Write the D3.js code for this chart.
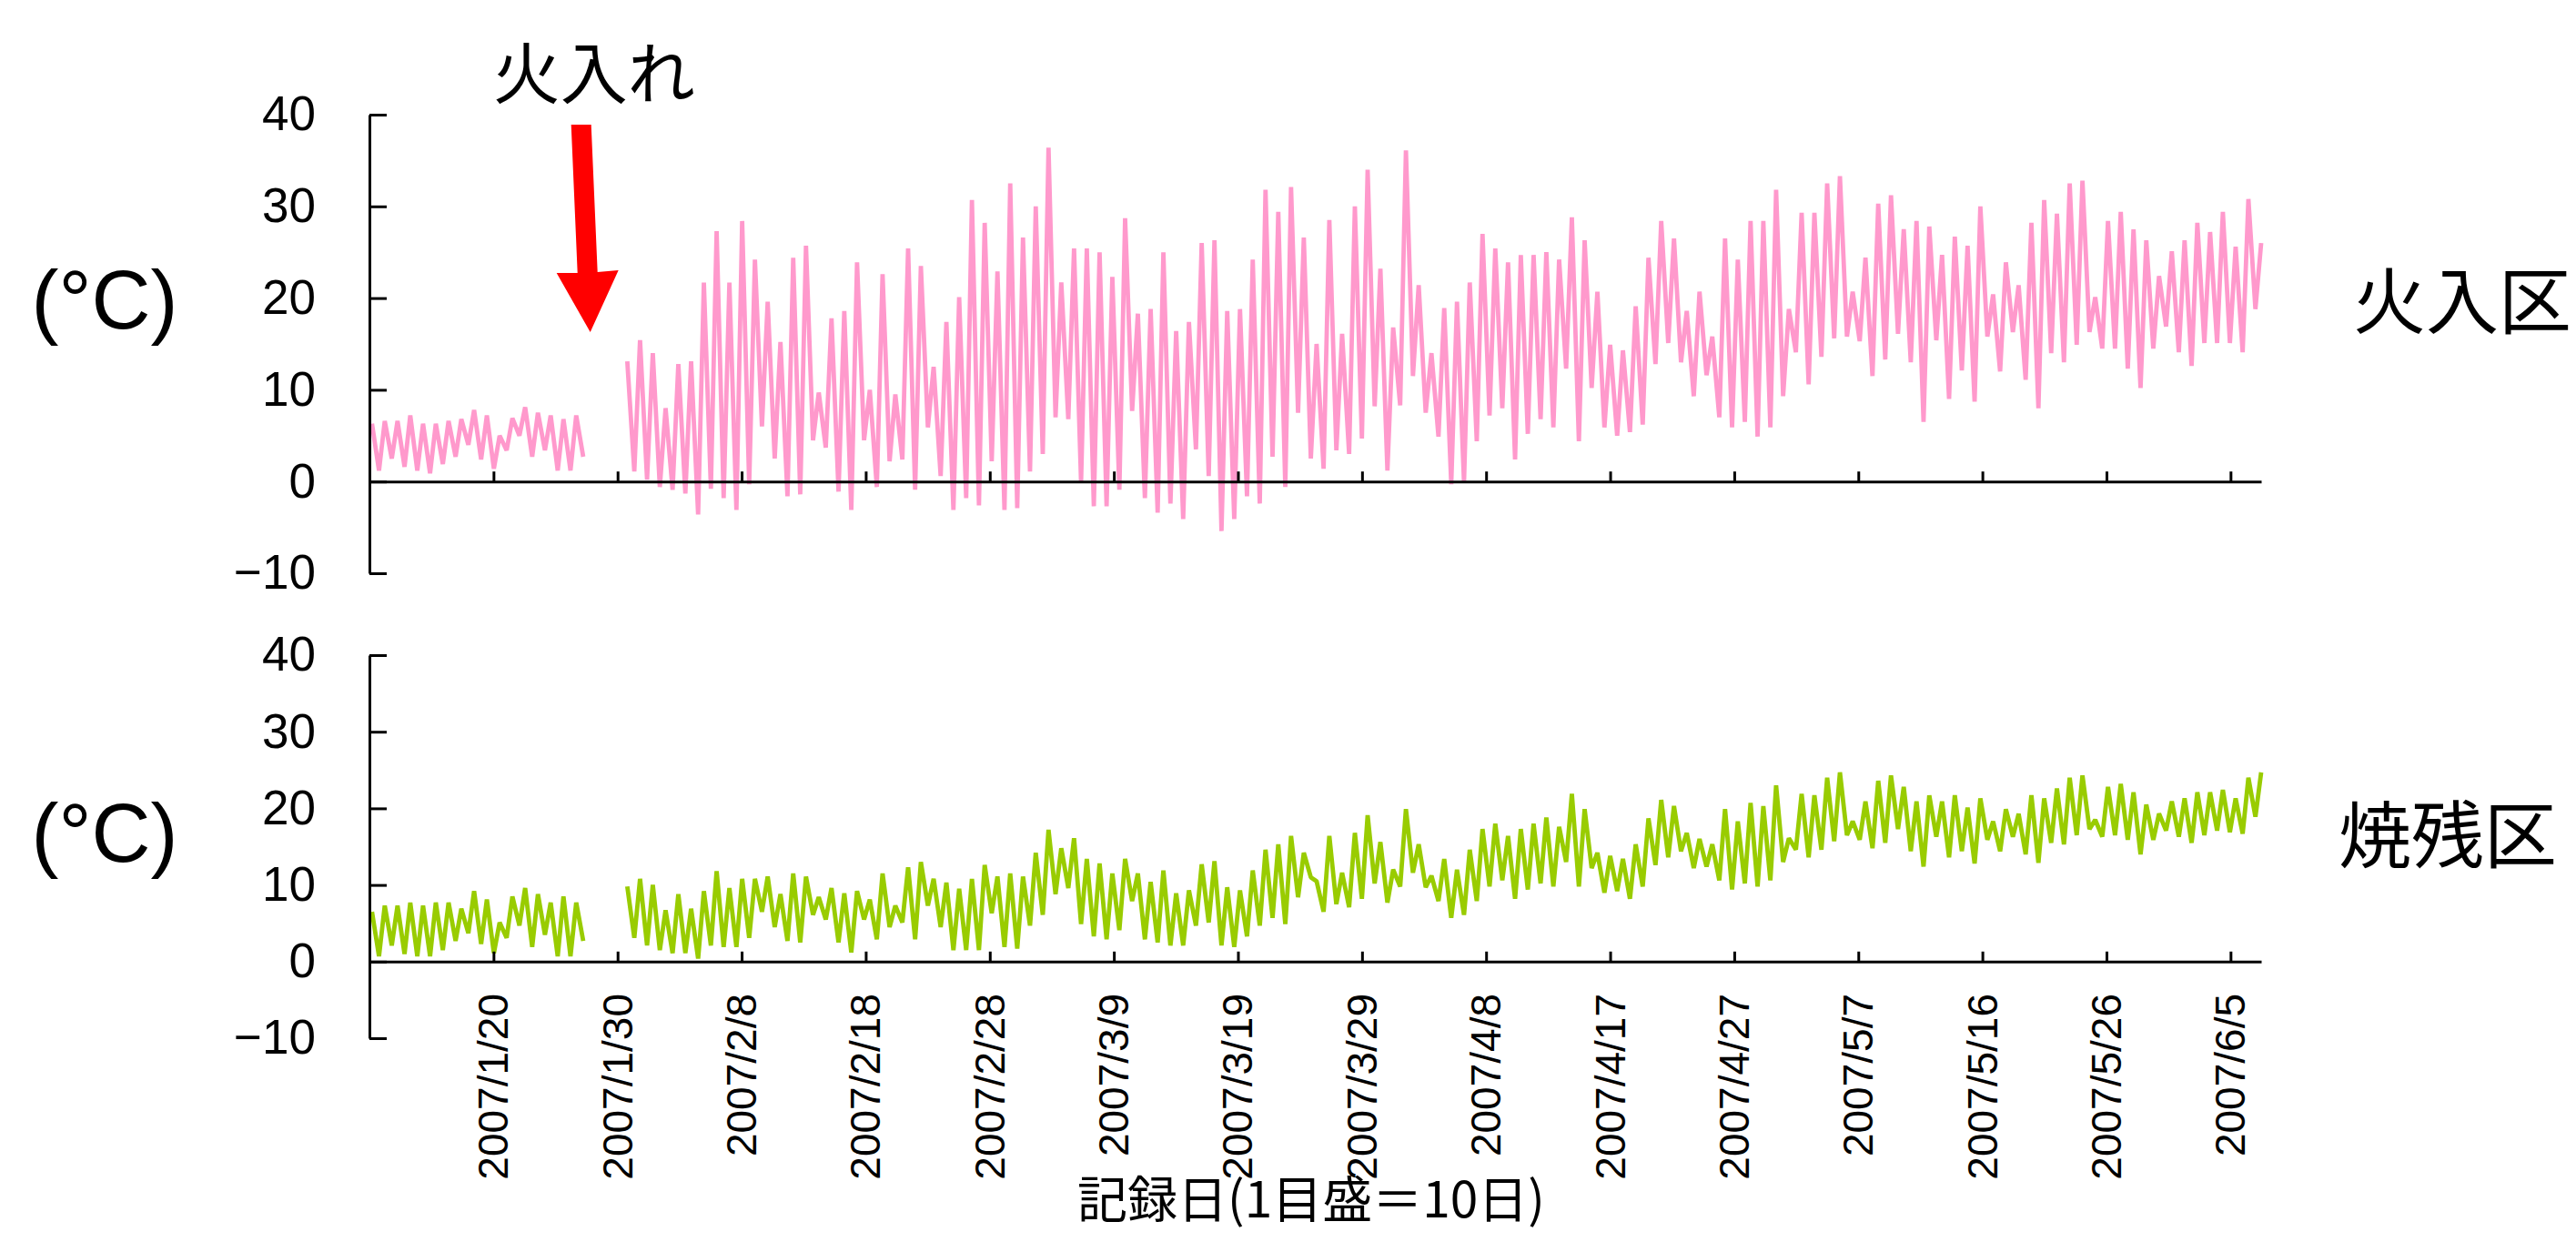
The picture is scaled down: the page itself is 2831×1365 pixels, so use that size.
<!DOCTYPE html>
<html>
<head>
<meta charset="utf-8">
<script src="https://cdn.jsdelivr.net/npm/d3@7"></script>
<style>
  body { margin: 0; background: #fff; }
  text { font-family: "Liberation Sans", Arial, sans-serif; fill: #000; }
  .jp { font-family: "Noto Sans CJK JP", sans-serif; }
</style>
</head>
<body>
<svg id="graph"></svg>
<script>
// one slot per day (daily high then low), null = no record
const burnHi = [6.3, 6.6, 6.6, 7.2, 6.3, 6.3, 6.6, 6.8, 7.8, 7.2, 5.0, 6.9, 8.1, 7.5, 7.2, 6.8, 7.2,
  null, null, null,
  13.1, 15.4, 14.0, 8.0, 12.8, 13.1, 21.7, 27.3, 21.7, 28.4, 24.2, 19.6, 15.2, 24.4, 25.7, 9.7, 17.8, 18.6,
  23.9, 10.0, 22.6, 9.5, 25.4, 23.5, 12.5, 17.4, 20.1, 30.7, 28.2, 22.9, 32.5, 26.6, 30.0, 36.4, 21.7, 25.4,
  25.4, 25.0, 22.3, 28.7, 18.3, 18.8, 25.0, 16.4, 17.4, 26.0, 26.3, 18.6, 18.8, 24.2, 31.8, 29.4, 32.1, 26.6, 15.0,
  28.5, 16.1, 30.0, 34.0, 23.2, 16.8, 36.1, 21.4, 14.0, 18.9, 19.6, 21.7, 27.0, 25.4, 23.9, 24.7, 24.7, 25.0,
  24.2, 28.8, 26.3, 20.7, 14.9, 14.3, 19.1, 24.4, 28.4, 26.5, 18.6, 20.7, 15.8, 26.5, 24.2, 28.4, 28.4, 31.8, 18.8, 29.3,
  29.3, 32.5, 33.3, 20.7, 24.4, 30.3, 31.2, 27.5, 28.4, 27.8, 24.7, 26.7, 25.7, 30.0, 20.4, 23.9, 21.4, 28.2,
  30.7, 29.2, 32.5, 32.8, 20.1, 28.4, 29.4, 27.5, 26.3, 22.4, 25.1, 26.3, 28.2, 27.2, 29.4, 25.6, 30.8, 26.0];
const burnLo = [1.2, 2.5, 1.6, 1.2, 0.9, 1.9, 2.7, 4.0, 2.4, 1.4, 3.4, 5.0, 2.7, 3.4, 1.2, 1.2, 2.7,
  null, null, null,
  1.1, 0.2, -0.6, -0.9, -1.3, -3.6, -0.8, -1.8, -3.1, -0.3, 6.0, 2.5, -1.6, -1.4, 4.5, 3.7, -1.1, -3.1,
  4.5, -0.6, 2.2, 2.4, -0.9, 5.9, 0.6, -3.1, -1.8, -2.6, 2.2, -3.1, -2.9, 1.1, 3.0, 7.0, 6.8, -0.1,
  -2.7, -2.7, -0.9, 7.7, -1.8, -3.4, -2.4, -4.1, 3.5, 0.6, -5.4, -4.1, -1.6, -2.4, 2.7, -0.6, 7.5, 2.5, 1.4,
  3.4, 3.0, 4.7, 8.2, 1.2, 8.3, 11.5, 7.5, 4.9, -0.3, -0.1, 4.4, 7.2, 8.0, 2.4, 5.2, 6.8, 5.9,
  12.3, 4.4, 10.2, 5.9, 5.0, 5.4, 6.2, 12.8, 15.1, 13.0, 9.3, 11.6, 7.0, 5.9, 6.5, 4.9, 5.9, 9.3, 14.1, 10.6,
  13.6, 15.6, 15.8, 15.3, 11.5, 13.3, 16.1, 13.0, 6.5, 15.4, 9.0, 12.1, 8.7, 15.8, 12.0, 16.3, 11.1, 8.0,
  14.0, 13.0, 14.9, 16.3, 14.5, 14.5, 12.3, 10.2, 14.5, 16.9, 14.1, 12.6, 15.1, 15.1, 15.1, 14.1, 18.8, null];

const unburnHi = [6.5, 7.3, 7.3, 7.7, 7.3, 7.7, 7.7, 6.9, 9.2, 8.1, 5.1, 8.5, 9.6, 8.8, 7.7, 8.5, 7.7,
  null, null, null,
  9.8, 10.8, 10.0, 6.7, 8.8, 6.9, 9.2, 11.8, 9.6, 10.8, 10.8, 11.1, 8.8, 11.5, 11.1, 8.4, 9.6, 8.9,
  9.2, 8.1, 11.5, 7.3, 12.3, 13.0, 10.8, 10.3, 9.5, 10.8, 12.6, 11.1, 11.5, 11.1, 14.2, 17.2, 14.8, 16.1,
  13.4, 12.8, 11.5, 13.4, 11.5, 10.4, 11.9, 8.9, 9.3, 12.7, 13.1, 9.7, 9.3, 11.9, 14.6, 15.3, 16.4, 14.2, 10.5,
  16.4, 11.6, 16.8, 19.1, 15.6, 12.0, 19.9, 15.3, 11.2, 13.4, 12.0, 14.6, 17.3, 18.0, 16.4, 17.3, 18.0, 18.8,
  17.6, 21.9, 19.9, 14.2, 13.8, 13.4, 15.3, 18.7, 21.1, 20.3, 16.8, 16.0, 15.3, 19.9, 18.3, 20.7, 20.3, 23.0, 16.1, 21.9,
  21.7, 24.0, 24.7, 18.3, 20.9, 23.6, 24.3, 22.8, 20.9, 21.7, 20.9, 21.7, 20.1, 21.3, 18.3, 19.9, 19.3, 21.7,
  21.3, 22.6, 24.0, 24.3, 18.5, 22.8, 23.2, 22.1, 20.5, 19.3, 20.9, 21.3, 22.1, 22.1, 22.4, 21.3, 24.0, 24.7];
const unburnLo = [0.7, 2.1, 1.0, 0.7, 0.7, 1.5, 2.7, 3.7, 2.3, 1.1, 3.1, 4.7, 1.9, 3.5, 0.7, 0.7, 2.7,
  null, null, null,
  3.1, 2.1, 1.5, 1.1, 1.1, 0.4, 2.1, 1.9, 1.9, 3.1, 6.5, 4.5, 2.7, 2.5, 6.1, 5.5, 2.5, 1.2,
  5.5, 2.9, 4.5, 5.1, 2.9, 7.3, 4.5, 1.5, 1.5, 1.5, 6.3, 1.9, 1.7, 4.7, 6.1, 8.8, 9.6, 4.9,
  3.3, 2.9, 4.1, 7.9, 2.9, 2.5, 2.1, 2.1, 4.7, 5.1, 2.1, 1.9, 3.3, 4.7, 5.7, 4.9, 8.4, 11.0, 6.5,
  7.5, 7.1, 8.2, 10.2, 7.7, 9.8, 11.6, 9.7, 7.9, 5.7, 6.1, 7.9, 9.8, 10.6, 8.2, 9.4, 10.2, 9.8,
  13.0, 9.8, 12.2, 9.0, 9.2, 8.2, 9.8, 12.6, 13.6, 14.4, 12.2, 12.4, 10.6, 9.4, 10.2, 9.8, 10.6, 13.0, 14.6, 13.6,
  14.6, 15.7, 16.5, 15.9, 14.8, 15.5, 17.3, 14.4, 12.4, 16.3, 13.6, 14.4, 12.8, 15.9, 14.4, 16.3, 14.0, 12.9,
  15.5, 15.3, 16.5, 17.3, 16.3, 16.5, 15.9, 14.0, 15.9, 17.1, 16.3, 15.5, 16.5, 17.1, 16.9, 16.7, 18.9, null];

const tickLabels = ['2007/1/20', '2007/1/30', '2007/2/8', '2007/2/18', '2007/2/28', '2007/3/9', '2007/3/19',
  '2007/3/29', '2007/4/8', '2007/4/17', '2007/4/27', '2007/5/7', '2007/5/16', '2007/5/26', '2007/6/5'];
const yTicks = [-10, 0, 10, 20, 30, 40];
const daysPerTick = 9.72;   // one tick = 10 days of records
const lastDay = 148.2;
const fireDay = 17.3;       // 火入れ

var W = 2831, H = 1365;
var svg = d3.select('#graph').attr('width', W).attr('height', H);

var x = d3.scaleLinear().domain([0, lastDay]).range([406, 2485]);
var yTop = d3.scaleLinear().domain([-10, 40]).range([630, 126]);
var yBot = d3.scaleLinear().domain([-10, 40]).range([1141, 720]);

function toPoints(hi, lo) {
    var pts = [];
    hi.forEach(function(h, d) {
        if (h == null) { pts.push({ d: d, v: null }); return; }
        pts.push({ d: d + 0.2, v: h });
        if (lo[d] != null) pts.push({ d: d + 0.75, v: lo[d] });
    });
    return pts;
}

function panel(y, hi, lo, color) {
    var g = svg.append('g');
    var line = d3.line()
        .defined(p => p.v != null)
        .x(p => x(p.d))
        .y(p => y(p.v));
    g.append('path')
        .datum(toPoints(hi, lo))
        .attr('d', line)
        .attr('fill', 'none')
        .attr('stroke', color)
        .attr('stroke-width', 4.8)
        .attr('stroke-linejoin', 'bevel');

    var yAxis = d3.axisLeft(y).tickValues(yTicks).tickSizeInner(-19).tickSizeOuter(0).tickPadding(59)
        .tickFormat(v => v < 0 ? '−' + Math.abs(v) : v);
    g.append('g').attr('transform', 'translate(406,0)').call(yAxis)
        .call(a => a.selectAll('line, path').attr('stroke', '#000').attr('stroke-width', 3))
        .call(a => a.selectAll('text').attr('font-size', 53).attr('font-family', '"Liberation Sans", Arial, sans-serif').attr('fill', '#000'));

    var xAxis = d3.axisBottom(x)
        .tickValues(tickLabels.map((t, i) => (i + 1) * daysPerTick))
        .tickSizeInner(-11).tickSizeOuter(0).tickFormat('');
    g.append('g').attr('transform', 'translate(0,' + y(0) + ')').call(xAxis)
        .call(a => a.selectAll('line, path').attr('stroke', '#000').attr('stroke-width', 3));
    return g;
}

panel(yTop, burnHi, burnLo, '#FF99CC');
panel(yBot, unburnHi, unburnLo, '#99CC00');

// date labels under the lower panel
svg.selectAll('text.date')
    .data(tickLabels)
    .enter()
    .append('text')
    .attr('class', 'date')
    .attr('transform', (d, i) => 'translate(' + x((i + 1) * daysPerTick) + ',1092) rotate(-90)')
    .attr('text-anchor', 'end')
    .attr('dominant-baseline', 'central')
    .attr('font-size', 46)
    .text(d => d);

// unit labels
[[yTop, 19.8], [yBot, 16.7]].forEach(function(p) {
    svg.append('text')
        .attr('x', 115).attr('y', p[0](p[1]))
        .attr('text-anchor', 'middle').attr('dominant-baseline', 'central')
        .attr('font-size', 90)
        .text('(°C)');
});

svg.append('text').attr('class', 'jp')
    .attr('x', 2706).attr('y', yTop(20.3))
    .attr('text-anchor', 'middle').attr('dominant-baseline', 'central')
    .attr('font-size', 80).text('火入区');
svg.append('text').attr('class', 'jp')
    .attr('x', 2690).attr('y', yBot(17.2))
    .attr('text-anchor', 'middle').attr('dominant-baseline', 'central')
    .attr('font-size', 80).text('焼残区');

svg.append('text').attr('class', 'jp')
    .attr('x', 1441).attr('y', 1314)
    .attr('text-anchor', 'middle').attr('dominant-baseline', 'central')
    .attr('font-size', 55).text('記録日(1目盛＝10日)');

// 火入れ arrow
var ax = x(fireDay);
svg.append('text').attr('class', 'jp')
    .attr('x', ax + 4).attr('y', 75)
    .attr('text-anchor', 'middle').attr('dominant-baseline', 'central')
    .attr('font-size', 74).text('火入れ');
var tipY = yTop(16.3), topY = yTop(38.9), baseY = tipY - 66;
svg.append('path')
    .attr('d', d3.line()([
        [ax - 21, topY], [ax + 1, topY], [ax + 8, baseY], [ax + 31, baseY - 2],
        [ax, tipY], [ax - 37, baseY + 1], [ax - 14, baseY + 1]
    ]) + 'Z')
    .attr('fill', '#FF0000');
</script>
</body>
</html>
